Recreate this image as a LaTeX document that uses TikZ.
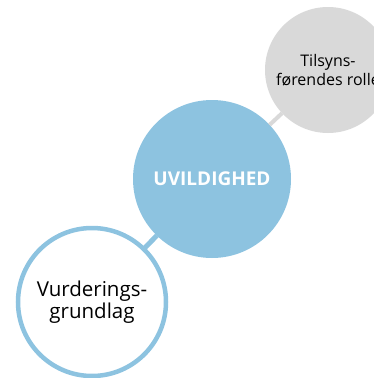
\documentclass[tikz,border=0pt]{standalone}
\usepackage{fontspec}
\setmainfont{Open Sans}
\usepackage{tkz-berge, tkz-graph}
\definecolor{lyseblaa}{HTML}{8DC3E0}
\definecolor{lysegraa}{HTML}{D9D9D9}
\newcommand{\off}{white}

\begin{document}
\begin{tikzpicture}[x=1pt,y=-1pt]
        \clip (0,0) rectangle (374,378);
        %\GraphInit[vstyle=Classic]
        \tikzset{EdgeStyle/.style = {line width=4pt}}
        \tikzset{VertexStyle/.style = {shape=circle, fill=lyseblaa, draw=none, minimum size=158pt, inner sep=0pt,
            text=white, font=\bfseries\fontsize{19}{23}\selectfont}}
        \Vertex[x=212,y=179,L={UVILDIGHED}]{U}
        \tikzset{VertexStyle/.style = {shape=circle, fill=lysegraa, draw=none, minimum size=126pt, inner sep=0pt,
            align=center, font=\fontsize{16}{18.5}\selectfont}}
        \Vertex[x=328,y=70,L={Tilsyns-\\førendes rolle}]{T}
        \tikzset{VertexStyle/.style = {shape=circle, fill=\off, draw=lyseblaa, line width=4.5pt, minimum size=148pt,
            inner sep=0pt, align=center, font=\fontsize{20.5}{22.5}\selectfont}}
        \Vertex[x=92,y=302,L={Vurderings-\\grundlag}]{V}
        \tikzset{EdgeStyle/.style = {line width=4pt, draw=lysegraa}}
        \Edge(U)(T)
        \tikzset{EdgeStyle/.style = {line width=5pt, draw=lyseblaa}}
        \Edge(U)(V)
    \end{tikzpicture}
\end{document}
